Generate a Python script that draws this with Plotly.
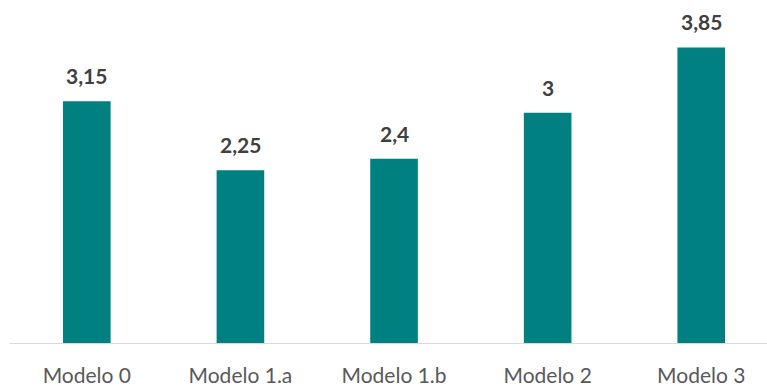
import plotly.graph_objects as go

categories = ["Modelo 0", "Modelo 1.a", "Modelo 1.b", "Modelo 2", "Modelo 3"]
values = [3.15, 2.25, 2.4, 3.0, 3.85]
labels = ["3,15", "2,25", "2,4", "3", "3,85"]

bar_color = "#008080"

fig = go.Figure(
    go.Bar(
        x=categories,
        y=values,
        width=0.31,
        marker=dict(color=bar_color, line=dict(width=0)),
        hoverinfo="skip",
    )
)

for c, v, t in zip(categories, values, labels):
    fig.add_annotation(
        x=c, y=v, text=f"<b>{t}</b>", showarrow=False,
        yanchor="bottom", yshift=11,
        font=dict(family="Lato", size=21, color="#404040"),
    )

fig.update_layout(
    width=767, height=387,
    margin=dict(l=10, r=0, t=0, b=40),
    paper_bgcolor="white", plot_bgcolor="white",
    showlegend=False,
    xaxis=dict(
        range=[-0.5, 4.428],
        showline=True, linecolor="#d9d9d9", linewidth=1,
        showgrid=False, ticks="", ticklabelstandoff=14,
        tickfont=dict(family="Lato", size=21, color="#595959"),
    ),
    yaxis=dict(
        range=[0, 4.468], visible=False, showgrid=False,
    ),
)

fig.write_html("out.html")
